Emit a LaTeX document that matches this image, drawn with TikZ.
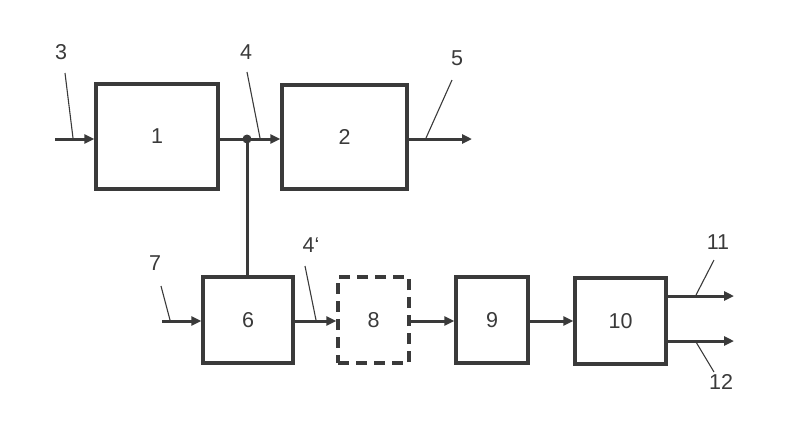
\documentclass[tikz,border=0pt]{standalone}
\usepackage{fontspec}
\setmainfont{Liberation Sans}
\usetikzlibrary{arrows.meta}
\definecolor{ink}{HTML}{3A3A3A}
\begin{document}
\begin{tikzpicture}[x=1pt,y=-1pt,
  blk/.style={draw=ink,line width=3.2pt,inner sep=0pt},
  lbl/.style={font=\fontsize{21.5}{22}\selectfont,text=ink,inner sep=0pt},
  conn/.style={draw=ink,line width=3pt,-{Triangle[length=10pt,width=9pt]}},
  wire/.style={draw=ink,line width=3pt},
  lead/.style={draw=ink,line width=1.1pt}]
\useasboundingbox (0,0) rectangle (800,426);
% boxes
\node[blk,minimum width=122pt,minimum height=105pt] (b1) at (157,136.5) {};
\node[lbl] at (b1.center) {1};
\node[blk,minimum width=125pt,minimum height=104pt] (b2) at (344.5,137) {};
\node[lbl] at (b2.center) {2};
\node[blk,minimum width=90pt,minimum height=86pt] (b6) at (248,320) {};
\node[lbl] at (b6.center) {6};
\node[blk,dashed,dash pattern=on 11pt off 7pt,minimum width=71pt,minimum height=86pt] (b8) at (373.5,320) {};
\node[lbl] at (b8.center) {8};
\node[blk,minimum width=72pt,minimum height=86pt] (b9) at (492,320) {};
\node[lbl] at (b9.center) {9};
\node[blk,minimum width=91pt,minimum height=86pt] (b10) at (620.5,321) {};
\node[lbl] at (b10.center) {10};
% coordinates
\coordinate (in3) at (55,139);
\coordinate (dot) at (247,139);
\coordinate (out5) at (472,139);
\coordinate (in7) at (162,321);
\coordinate (o11s) at (666,296);
\coordinate (o11) at (734,296);
\coordinate (o12s) at (666,341);
\coordinate (o12) at (734,341);
% connectors
\draw[conn] (in3) -- (in3 -| b1.west);
\draw[wire] (b1.east |- dot) -- (dot);
\draw[conn] (dot) -- (dot -| b2.west);
\draw[conn] (b2.east |- out5) -- (out5);
\draw[wire] (dot) -- (dot |- b6.north);
\fill[ink] (dot) circle (4.5pt);
\draw[conn] (in7) -- (in7 -| b6.west);
\draw[conn] (b6.east |- in7) -- (in7 -| b8.west);
\draw[conn] (b8.east |- in7) -- (in7 -| b9.west);
\draw[conn] (b9.east |- in7) -- (in7 -| b10.west);
\draw[conn] (o11s) -- (o11);
\draw[conn] (o12s) -- (o12);
% labels and leaders
\node[lbl] (l3) at (61,52) {3};
\draw[lead] (65,73) -- (73,138);
\node[lbl] (l4) at (246,52) {4};
\draw[lead] (247,72) -- (260,138);
\node[lbl] (l5) at (457,58) {5};
\draw[lead] (452,80) -- (426,138);
\node[lbl] (l7) at (155,263) {7};
\draw[lead] (161,286) -- (170,320);
\node[lbl] (l4p) at (311,245) {4‘};
\draw[lead] (305,266) -- (316,320);
\node[lbl] (l11) at (718,242) {11};
\draw[lead] (714,260) -- (696,295);
\node[lbl] (l12) at (721,382) {12};
\draw[lead] (696,342) -- (714,372);
\end{tikzpicture}
\end{document}
